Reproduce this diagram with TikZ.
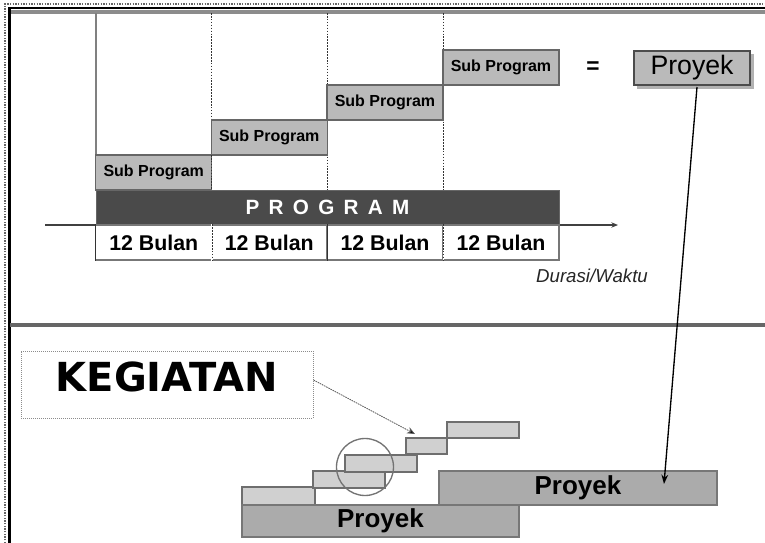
\documentclass[tikz,border=0pt]{standalone}
\usepackage{fontspec}
\setmainfont{Liberation Sans}
\newfontfamily\dejafont{DejaVu Sans}
\usetikzlibrary{arrows.meta,calc}
\definecolor{spfill}{HTML}{BABABA}
\definecolor{spdraw}{HTML}{666666}
\definecolor{progfill}{HTML}{4A4A4A}
\definecolor{stfill}{HTML}{D0D0D0}
\definecolor{stdraw}{HTML}{6E6E6E}
\definecolor{pyfill}{HTML}{ABABAB}
\definecolor{pydraw}{HTML}{777777}
\definecolor{frgray}{HTML}{777777}
\tikzset{
  subbox/.style={draw=spdraw, fill=spfill, line width=0.8pt, inner sep=0pt,
    minimum width=87pt, minimum height=26.25pt, font=\bfseries\fontsize{12}{14}\selectfont},
  bulanbox/.style={draw=frgray, fill=white, line width=0.8pt, inner sep=0pt,
    minimum width=87pt, minimum height=26.25pt, font=\bfseries\fontsize{16}{18}\selectfont},
  stairbar/.style={draw=stdraw, fill=stfill, line width=0.8pt, inner sep=0pt},
  proyekbar/.style={draw=pydraw, fill=pyfill, line width=0.8pt, inner sep=0pt,
    font=\bfseries\fontsize{19.5}{22}\selectfont},
  vline/.style={draw=black!80, line width=0.7pt, dash pattern=on 1.2pt off 1pt},
}
\begin{document}
\begin{tikzpicture}[x=0.75pt, y=-0.75pt]
\useasboundingbox (0,0) rectangle (765,543);
\fill[white] (0,0) rectangle (765,543);
% frame
\draw[black!60, line width=1.5pt, dash pattern=on 1pt off 1pt] (5,543) -- (5,4) -- (765,4);
\draw[black!45, line width=3pt] (10,11.5) -- (765,11.5);
\draw[black, line width=1.8pt] (9.5,543) -- (9.5,8) -- (765,8);
\draw[black!60, line width=2.6pt] (10,325) -- (765,325);
% column guide lines
\draw[black!50, line width=0.8pt] (96,13) -- (96,190);
\draw[vline] (211.5,13) -- (211.5,190);
\draw[vline] (327,13) -- (327,190);
\draw[vline] (443,13) -- (443,190);
% sub programs
\node[subbox] (sp1) at (153.75,172.5) {Sub Program};
\node[subbox] (sp2) at (269.25,137.5) {Sub Program};
\node[subbox] (sp3) at (385,102.5) {Sub Program};
\node[subbox] (sp4) at (501,67.5) {Sub Program};
\draw[vline] (211.5,155) -- (211.5,190);
% axis
\coordinate (ax0) at (45,225);
\coordinate (ax1) at (618,225);
\draw[black!75, line width=0.8pt, -{Stealth[length=5pt,width=4pt]}] (ax0) -- (ax1);
% program bar
\node[fill=progfill, draw=black!60, line width=0.6pt, inner sep=0pt, minimum width=347.25pt, minimum height=26.25pt,
  text=white, font=\bfseries\fontsize{15.5}{17}\selectfont] (prog) at (327.5,207.5)
  {P\hspace{7pt}R\hspace{7pt}O\hspace{7pt}G\hspace{7pt}R\hspace{7pt}A\hspace{7pt}M};
% bulan boxes
\node[bulanbox] (b1) at (153.75,242.5) {12 Bulan};
\node[bulanbox] (b2) at (269.25,242.5) {12 Bulan};
\node[bulanbox] (b3) at (385,242.5) {12 Bulan};
\node[bulanbox] (b4) at (501,242.5) {12 Bulan};
\draw[white, line width=1.2pt] (b1.north east) -- (b1.south east);
\draw[vline] (b1.north east) -- (b1.south east);
\draw[black!80, line width=0.9pt] (b2.north east) -- (b2.south east);
\draw[white, line width=1.2pt] (b3.north east) -- (b3.south east);
\draw[vline] (b3.north east) -- (b3.south east);
\draw[black!80, line width=0.9pt] (b1.north west) -- (b1.south west);
\node[font=\itshape\fontsize{14}{16}\selectfont, text=black!85] (dur) at (592,276) {Durasi/Waktu};
% equals and proyek
\node[font=\bfseries\fontsize{17}{18}\selectfont] (eq) at (593,68) {=};
\fill[black!30] (637,54) rectangle (754,89);
\node[draw=black!70, fill=spfill, line width=0.9pt, inner sep=0pt, minimum width=87pt, minimum height=25.5pt,
  font=\fontsize{20}{22}\selectfont] (pt) at (692,68) {Proyek};
% kegiatan
\node[draw=black!45, line width=0.7pt, dash pattern=on 1pt off 0.5pt, inner sep=0pt, minimum width=219pt, minimum height=50.25pt] (keg) at (167,384.5) {};
\node[font=\dejafont\bfseries\fontsize{30}{32}\selectfont] (kegt) at (167,377) {KEGIATAN};
% stairs
\node[stairbar, minimum width=54.75pt, minimum height=13.5pt] (sa) at (278.5,496) {};
\node[stairbar, minimum width=54pt, minimum height=12.75pt] (sb) at (349,479.5) {};
\node[stairbar, minimum width=54pt, minimum height=12.75pt] (sc) at (381,463.5) {};
\node[stairbar, minimum width=30.75pt, minimum height=12pt] (sd) at (426.5,446) {};
\node[stairbar, minimum width=54pt, minimum height=12pt] (se) at (483,430) {};
\node[draw=black!55, line width=1pt, circle, inner sep=0pt, minimum size=42.75pt] (circ) at (365,467) {};
% proyek bars
\node[proyekbar, minimum width=208.5pt, minimum height=25.5pt] (py2) at (578,488) {};
\node[font=\bfseries\fontsize{19.5}{22}\selectfont] (py2t) at (578,488) {Proyek};
\node[proyekbar, minimum width=207.75pt, minimum height=24pt] (py1) at (380.5,521) {};
\node[font=\bfseries\fontsize{19.5}{22}\selectfont] (py1t) at (380.5,521) {Proyek};
% arrows
\coordinate (kegend) at (415,434);
\draw[black!65, line width=0.6pt, dash pattern=on 1.2pt off 0.6pt, -{Stealth[length=6pt,width=5pt,fill=black]}] (keg.east |- 0,380) -- (kegend);
\coordinate (ptstart) at (697,87);
\coordinate (ptend) at (664,484);
\draw[black, line width=1pt, -{Stealth[length=7pt,width=5pt]}] (ptstart) -- (ptend);
\end{tikzpicture}
\end{document}
